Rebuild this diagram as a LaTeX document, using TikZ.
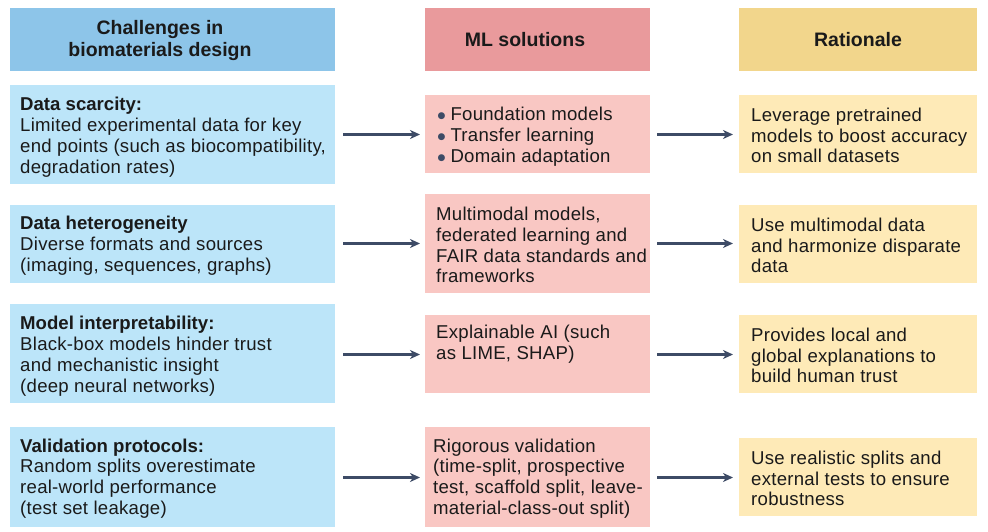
\documentclass[tikz,border=0pt]{standalone}
\usepackage{fontspec}
\setmainfont{Liberation Sans}
\newfontfamily\bodyfont{Liberation Sans}[LetterSpace=1.4, BoldFeatures={LetterSpace=0}]
\newfontfamily\symfont{DejaVu Sans}
\usetikzlibrary{arrows.meta}
\definecolor{hblue}{HTML}{8DC5E9}
\definecolor{rblue}{HTML}{BCE5F9}
\definecolor{hred}{HTML}{E99A9C}
\definecolor{rred}{HTML}{F9C7C3}
\definecolor{hyel}{HTML}{F2D68C}
\definecolor{ryel}{HTML}{FEEAB7}
\definecolor{arrc}{HTML}{3D4B66}
\definecolor{txtc}{HTML}{1A1A1A}
\newcommand\bul{\hspace{1.5pt}\textcolor{arrc}{\raisebox{1.6pt}{\symfont\fontsize{9}{9}\selectfont ●}}\hspace{5pt}}
\tikzset{
  box/.style={rectangle, draw=none, inner sep=0pt, outer sep=0pt},
  hdtxt/.style={inner sep=0pt, align=center, text=txtc, font=\fontsize{19.5}{22}\selectfont\bfseries},
  bodytxt/.style={inner sep=0pt, align=left, anchor=west, yshift=-1.5pt, text=txtc, font=\bodyfont\fontsize{18.6}{20.8}\selectfont},
  arr/.style={draw=arrc, line width=2.6pt, -{Stealth[length=10pt,width=9pt,inset=3pt]}},
}
\begin{document}
\begin{tikzpicture}[x=1pt,y=-1pt]
\useasboundingbox (0,0) rectangle (988,532);
% headers
\node[box, fill=hblue, minimum width=325pt, minimum height=63pt] (h1) at (172.5,39.5) {};
\node[box, fill=hred, minimum width=225pt, minimum height=63pt] (h2) at (537.5,39.5) {};
\node[box, fill=hyel, minimum width=238pt, minimum height=63pt] (h3) at (858,39.5) {};
\node[hdtxt] (h1t) at (160,40.5) {Challenges in\\biomaterials design};
\node[hdtxt] (h2t) at (525,40) {ML solutions};
\node[hdtxt] (h3t) at (858,40) {Rationale};
% left column
\node[box, fill=rblue, minimum width=325pt, minimum height=99pt] (c1) at (172.5,134.5) {};
\node[box, fill=rblue, minimum width=325pt, minimum height=78pt] (c2) at (172.5,244) {};
\node[box, fill=rblue, minimum width=325pt, minimum height=99pt] (c3) at (172.5,353.5) {};
\node[box, fill=rblue, minimum width=325pt, minimum height=100pt] (c4) at (172.5,477) {};
% middle column
\node[box, fill=rred, minimum width=225pt, minimum height=78pt] (m1) at (537.5,134) {};
\node[box, fill=rred, minimum width=225pt, minimum height=99pt] (m2) at (537.5,243.5) {};
\node[box, fill=rred, minimum width=225pt, minimum height=78pt] (m3) at (537.5,354) {};
\node[box, fill=rred, minimum width=225pt, minimum height=100pt] (m4) at (537.5,477) {};
% right column
\node[box, fill=ryel, minimum width=238pt, minimum height=78pt] (r1) at (858,134) {};
\node[box, fill=ryel, minimum width=238pt, minimum height=78pt] (r2) at (858,244) {};
\node[box, fill=ryel, minimum width=238pt, minimum height=78pt] (r3) at (858,354) {};
\node[box, fill=ryel, minimum width=238pt, minimum height=78pt] (r4) at (858,477) {};
% left texts
\node[bodytxt] (c1t) at ([xshift=10pt,yshift=-1pt]c1.west) {\textbf{Data scarcity:}\\Limited experimental data for key\\end points (such as biocompatibility,\\degradation rates)};
\node[bodytxt] (c2t) at ([xshift=10pt]c2.west) {\textbf{Data heterogeneity}\\Diverse formats and sources\\(imaging, sequences, graphs)};
\node[bodytxt] (c3t) at ([xshift=10pt,yshift=-1pt]c3.west) {\textbf{Model interpretability:}\\Black-box models hinder trust\\and mechanistic insight\\(deep neural networks)};
\node[bodytxt] (c4t) at ([xshift=10pt]c4.west) {\textbf{Validation protocols:}\\Random splits overestimate\\real-world performance\\(test set leakage)};
% middle texts
\node[bodytxt] (m1t) at ([xshift=11pt,yshift=-1pt]m1.west) {\bul Foundation models\\\bul Transfer learning\\\bul Domain adaptation};
\node[bodytxt] (m2t) at ([xshift=11pt]m2.west) {Multimodal models,\\federated learning and\\FAIR data standards and\\frameworks};
\node[bodytxt] (m3t) at ([xshift=11pt]m3.west) {Explainable AI (such\\as LIME, SHAP)\\\strut};
\node[bodytxt] (m4t) at ([xshift=8pt]m4.west) {Rigorous validation\\(time-split, prospective\\test, scaffold split, leave-\\material-class-out split)};
% right texts
\node[bodytxt] (r1t) at ([xshift=12pt]r1.west) {Leverage pretrained\\models to boost accuracy\\on small datasets};
\node[bodytxt] (r2t) at ([xshift=12pt]r2.west) {Use multimodal data\\and harmonize disparate\\data};
\node[bodytxt] (r3t) at ([xshift=12pt]r3.west) {Provides local and\\global explanations to\\build human trust};
\node[bodytxt] (r4t) at ([xshift=12pt]r4.west) {Use realistic splits and\\external tests to ensure\\robustness};
% arrows
\foreach \i/\dy in {1/-0.5pt,2/0pt,3/-0.5pt,4/-0.5pt}{
  \draw[arr] ([xshift=8pt,yshift=\dy]c\i.east |- m\i.west) -- ([xshift=-5pt,yshift=\dy]m\i.west);
  \draw[arr] ([xshift=7pt,yshift=\dy]m\i.east) -- ([xshift=-6pt,yshift=\dy]r\i.west |- m\i.east);
}
\end{tikzpicture}
\end{document}
